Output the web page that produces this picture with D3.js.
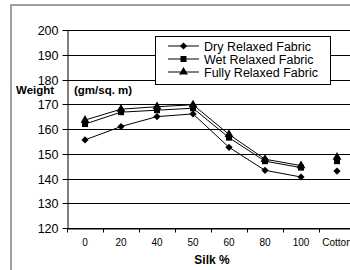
<!DOCTYPE html>
<html lang="en">
<head>
  <meta charset="UTF-8" />
  <title>Fabric Weight vs Silk %</title>
  <script src="https://d3js.org/d3.v7.min.js"></script>
  <style>
    body {
      margin: 0;
      background: #fff;
      font-family: "Liberation Sans", Arial, sans-serif;
    }
    svg {
      display: block;
    }
  </style>
</head>
<body>
  <div id="chart"></div>

  <script>
    const categories = ["0", "20", "40", "50", "60", "80", "100", "Cotton"];
    const seriesNames = ["Dry Relaxed Fabric", "Wet Relaxed Fabric", "Fully Relaxed Fabric"];
    // last value (Cotton) is plotted as a lone point, not joined to the line
    const dryValues = [155.6, 161, 165, 166.1, 152.6, 143.3, 140.6, 143];
    const wetValues = [162, 166.8, 167.6, 168.4, 156.5, 147, 144.4, 147];
    const fullyValues = [163.6, 168, 169, 169.8, 157.8, 147.8, 145.2, 148.6];
    const yTicks = [120, 130, 140, 150, 160, 170, 180, 190, 200];

    const width = 350;
    const height = 270;

    const svg = d3.select("#chart")
      .append("svg")
      .attr("width", width)
      .attr("height", height);

    // outer chart frame
    svg.append("rect")
      .attr("x", 11)
      .attr("y", 5)
      .attr("width", 400)
      .attr("height", 400)
      .attr("fill", "none")
      .attr("stroke", "#808080")
      .attr("stroke-width", 1.5);

    const x = d3.scaleBand()
      .domain(categories)
      .range([67, 355]);

    const y = d3.scaleLinear()
      .domain([120, 200])
      .range([228, 30]);

    // gridlines
    svg.append("g")
      .selectAll("line")
      .data(yTicks)
      .enter()
      .append("line")
      .attr("x1", 67)
      .attr("x2", 355)
      .attr("y1", d => Math.round(y(d)) + 0.5)
      .attr("y2", d => Math.round(y(d)) + 0.5)
      .attr("stroke", "#000")
      .attr("stroke-width", 1);

    // y axis
    const yAxis = svg.append("g")
      .attr("transform", "translate(67.5,0)")
      .call(d3.axisLeft(y).tickValues(yTicks).tickSize(5).tickSizeOuter(0).tickPadding(4));
    yAxis.selectAll("text")
      .attr("font-family", "Liberation Sans, Arial, sans-serif")
      .attr("font-size", 12.5)
      .attr("fill", "#000");
    yAxis.selectAll("line, path").attr("stroke", "#000");
    yAxis.selectAll(".tick").attr("transform", d => `translate(0,${Math.round(y(d)) + 0.5})`);

    // x axis
    const xAxis = svg.append("g")
      .attr("transform", `translate(0,${Math.round(y(120)) + 0.5})`)
      .call(d3.axisBottom(x).tickSize(0).tickSizeOuter(0).tickPadding(10));
    xAxis.select("path").attr("stroke", "#000");
    xAxis.selectAll("text")
      .attr("font-family", "Liberation Sans, Arial, sans-serif")
      .attr("font-size", 10)
      .attr("fill", "#000");

    // tick marks between categories
    xAxis.append("g")
      .selectAll("line")
      .data(categories)
      .enter()
      .append("line")
      .attr("x1", d => Math.round(x(d)) + 0.5)
      .attr("x2", d => Math.round(x(d)) + 0.5)
      .attr("y1", 0)
      .attr("y2", 4)
      .attr("stroke", "#000");

    const cx = c => x(c) + x.bandwidth() / 2;

    const line = d3.line()
      .defined((d, i) => i < categories.length - 1)
      .x((d, i) => cx(categories[i]))
      .y(d => y(d));

    // diamond = square turned 45 degrees
    const symbols = [d3.symbolSquare, d3.symbolSquare, d3.symbolTriangle];
    const sizes = [26, 36, 34];
    const rotations = [45, 0, 0];
    const allSeries = [dryValues, wetValues, fullyValues];

    allSeries.forEach((vals, s) => {
      svg.append("path")
        .datum(vals)
        .attr("d", line)
        .attr("fill", "none")
        .attr("stroke", "#000")
        .attr("stroke-width", 1);

      svg.append("g")
        .selectAll("path")
        .data(vals)
        .enter()
        .append("path")
        .attr("transform", (d, i) => `translate(${cx(categories[i])},${y(d)}) rotate(${rotations[s]})`)
        .attr("d", d3.symbol().type(symbols[s]).size(sizes[s]))
        .attr("fill", "#000");
    });

    // legend
    const legend = svg.append("g");
    legend.append("rect")
      .attr("x", 155.5)
      .attr("y", 36.5)
      .attr("width", 175)
      .attr("height", 48)
      .attr("fill", "#fff")
      .attr("stroke", "#000");

    seriesNames.forEach((name, i) => {
      const ly = 46 + i * 13;
      legend.append("line")
        .attr("x1", 168)
        .attr("x2", 199)
        .attr("y1", ly)
        .attr("y2", ly)
        .attr("stroke", "#000");
      legend.append("path")
        .attr("transform", `translate(183.5,${ly}) rotate(${rotations[i]})`)
        .attr("d", d3.symbol().type(symbols[i]).size(sizes[i]))
        .attr("fill", "#000");
      legend.append("text")
        .attr("x", 204)
        .attr("y", ly + 4.5)
        .attr("font-size", 12.5)
        .attr("fill", "#000")
        .text(name);
    });

    // axis titles
    svg.append("text")
      .attr("x", 16)
      .attr("y", 94)
      .attr("font-size", 11.5)
      .attr("font-weight", "bold")
      .text("Weight");

    svg.append("text")
      .attr("x", 74)
      .attr("y", 94)
      .attr("font-size", 11.5)
      .attr("font-weight", "bold")
      .text("(gm/sq. m)");

    svg.append("text")
      .attr("x", 212)
      .attr("y", 264)
      .attr("text-anchor", "middle")
      .attr("font-size", 12)
      .attr("font-weight", "bold")
      .text("Silk %");
  </script>
</body>
</html>
